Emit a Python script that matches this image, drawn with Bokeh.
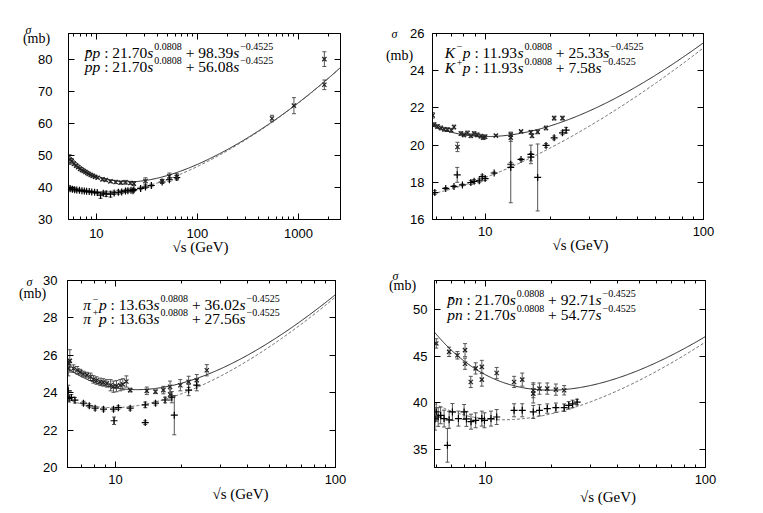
import numpy as np
from bokeh.plotting import figure
from bokeh.models import (ColumnDataSource, Whisker, Label, LogAxis, LinearAxis,
                          FixedTicker, Range1d, CustomJSTickFormatter, TeeHead,
                          PrintfTickFormatter)
from bokeh.layouts import row, column
from bokeh.embed import file_html
from bokeh.resources import INLINE

# ---------------- fit coefficients (from the printed formulas) ----------------
EXP_P = 0.0808
EXP_R = -0.4525
pp_coef = [21.70, 98.39, 56.08]      # X, Y(pbar p), Y(p p)
kp_coef = [11.93, 25.33, 7.58]       # X, Y(K- p), Y(K+ p)
pip_coef = [13.63, 36.02, 27.56]     # X, Y(pi- p), Y(pi+ p)
pn_coef = [21.70, 92.71, 54.77]      # X, Y(pbar n), Y(p n)

# ---------------- panel 1 data: pbar p / p p ----------------
pbarp_x = [5.45, 5.7, 6.0, 6.3, 6.6, 6.9, 7.2, 7.5, 7.8, 8.1, 8.4, 8.8, 9.2, 9.7,
           10.3, 11.5, 12.4, 13.8, 15.5, 17.4, 19.4, 21.7, 23.5, 30.6, 44.7,
           52.8, 62.5, 546, 900, 1800, 1800]
pbarp_y = [48.7, 48.2, 47.4, 46.8, 46.3, 45.8, 45.4, 45.1, 44.8, 44.5, 44.2, 43.9,
           43.6, 43.3, 43.0, 42.5, 42.3, 41.9, 41.7, 41.5, 41.6, 41.4, 41.2, 42.0,
           41.9, 43.5, 43.3, 61.5, 65.5, 72.0, 80.0]
pbarp_e = [1.5, 0.8, 0.6, 0.5, 0.4, 0.4, 0.3, 0.3, 0.3, 0.3, 0.3, 0.3, 0.3, 0.3,
           0.3, 0.4, 0.4, 0.4, 0.5, 0.5, 0.6, 0.5, 0.6, 1.0, 0.6, 1.0, 1.0,
           1.0, 2.5, 1.5, 2.3]
pp_x = [5.5, 5.8, 6.1, 6.4, 6.8, 7.2, 7.6, 8.0, 8.5, 9.0, 9.6, 10.2, 11.0, 11.7,
        12.5, 13.8, 15.0, 16.5, 17.8, 19.4, 20.5, 22.0, 23.0, 23.5, 27.4, 30.6,
        35.0, 44.7, 52.8, 62.5]
pp_y = [39.6, 39.4, 39.3, 39.2, 39.1, 39.0, 38.9, 38.8, 38.7, 38.6, 38.5, 38.4,
        37.6, 38.2, 38.0, 37.9, 38.3, 38.5, 38.6, 38.9, 39.0, 39.1, 39.0, 39.3,
        39.7, 40.1, 40.6, 41.7, 42.4, 43.1]
pp_e = [0.6, 0.5, 0.4, 0.4, 0.4, 0.3, 0.3, 0.3, 0.3, 0.3, 0.3, 0.3, 1.0, 0.4,
        0.8, 0.9, 0.5, 0.6, 0.5, 0.5, 0.5, 0.4, 0.4, 0.4, 0.4, 0.4, 0.4, 0.4,
        0.5, 0.5]

# ---------------- panel 2 data: K- p / K+ p ----------------
kmp_x = [5.75, 5.84, 6.05, 6.27, 6.5, 6.72, 7.0, 7.2, 7.47, 7.74, 8.0, 8.3, 8.6,
         8.9, 9.2, 9.56, 9.8, 10.0, 11.2, 13.1, 13.1, 14.6, 16.2, 16.4, 17.4,
         19.0, 20.7, 22.6]
kmp_y = [21.6, 21.1, 21.0, 20.92, 20.85, 20.83, 20.8, 20.97, 19.9, 20.62, 20.55,
         20.65, 20.5, 20.62, 20.55, 20.48, 20.4, 20.45, 20.51, 20.56, 20.4, 20.74,
         20.69, 20.5, 20.71, 20.92, 21.45, 21.45]
kmp_e = [0.15, 0.1, 0.1, 0.1, 0.1, 0.1, 0.1, 0.1, 0.25, 0.1, 0.1, 0.1, 0.1, 0.1,
         0.1, 0.1, 0.1, 0.1, 0.05, 0.1, 0.2, 0.05, 0.1, 0.1, 0.1, 0.1, 0.1, 0.1]
kpp_x = [5.88, 6.6, 7.2, 7.45, 7.87, 8.6, 8.9, 9.4, 9.7, 10.0, 11.0, 13.1, 13.1,
         14.6, 16.2, 16.2, 17.4, 19.0, 20.7, 22.6, 23.5]
kpp_y = [17.45, 17.67, 17.78, 18.4, 17.86, 17.99, 18.05, 18.08, 18.3, 18.2, 18.5,
         18.97, 18.8, 19.23, 19.5, 19.35, 18.26, 19.98, 20.39, 20.66, 20.8]
kpp_e = [0.1, 0.05, 0.05, 0.4, 0.05, 0.1, 0.1, 0.1, 0.1, 0.1, 0.05, 0.1, 1.9,
         0.05, 0.5, 0.2, 1.8, 0.1, 0.1, 0.1, 0.15]

# ---------------- panel 3 data: pi- p / pi+ p ----------------
pimp_x = [6.1, 6.15, 6.2, 6.44, 6.7, 6.91, 7.15, 7.41, 7.7, 7.94, 8.2, 8.52, 8.8,
          9.13, 9.5, 9.79, 10.1, 10.5, 10.8, 11.2, 11.66, 13.87, 15.2, 16.5,
          17.7, 17.7, 19.7, 21.5, 23.4, 26.0]
pimp_y = [25.3, 25.56, 25.7, 25.29, 25.2, 25.1, 25.0, 24.94, 24.85, 24.71, 24.65,
          24.58, 24.55, 24.5, 24.4, 24.32, 24.35, 24.4, 24.45, 24.6, 24.14, 24.1,
          24.05, 24.14, 24.32, 23.9, 24.4, 24.58, 24.67, 25.2]
pimp_e = [0.4, 0.2, 0.6, 0.2, 0.2, 0.15, 0.15, 0.15, 0.2, 0.2, 0.2, 0.2, 0.2, 0.2,
          0.3, 0.3, 0.3, 0.3, 0.3, 0.3, 0.1, 0.2, 0.1, 0.2, 0.3, 0.3, 0.3, 0.3,
          0.3, 0.3]
pipp_x = [6.1, 6.15, 6.3, 6.54, 7.15, 7.6, 8.08, 8.82, 9.79, 9.85, 10.3, 11.66,
          13.65, 13.65, 15.2, 16.8, 18.03, 18.5, 21.5, 23.4]
pipp_y = [24.1, 23.7, 23.75, 23.6, 23.44, 23.3, 23.17, 23.12, 23.12, 22.5, 23.2,
          23.17, 23.35, 22.4, 23.44, 23.61, 23.76, 22.8, 24.14, 24.4]
pipp_e = [0.3, 0.2, 0.15, 0.15, 0.1, 0.1, 0.1, 0.1, 0.1, 0.2, 0.1, 0.1, 0.15, 0.1,
          0.1, 0.15, 0.3, 1.05, 0.3, 0.3]

# ---------------- panel 4 data: pbar n / p n ----------------
pbn_x = [5.98, 6.84, 7.46, 8.08, 8.08, 8.58, 9.03, 9.63, 9.63, 11.25, 13.5, 14.7,
         16.5, 16.5, 17.6, 19.1, 20.9, 22.8]
pbn_y = [46.37, 45.47, 45.1, 45.65, 44.2, 42.25, 43.7, 43.86, 42.5, 43.2, 42.25,
         42.5, 41.36, 41.0, 41.54, 41.54, 41.43, 41.36]
pbn_e = [0.5, 0.5, 0.4, 0.7, 0.6, 0.6, 0.6, 0.7, 0.7, 0.6, 0.6, 0.7, 0.8, 1.0,
         0.6, 0.6, 0.6, 0.5]
pn_x = [5.9, 5.98, 6.1, 6.26, 6.49, 6.72, 6.84, 7.08, 7.54, 8.0, 8.2, 8.6, 9.03,
        9.63, 9.9, 10.6, 11.25, 13.5, 14.7, 16.5, 17.6, 19.1, 20.9, 22.8, 23.9,
        24.9, 26.1]
pn_y = [38.3, 39.04, 38.5, 38.68, 38.33, 35.47, 38.2, 39.04, 38.33, 39.04, 38.3,
        38.0, 38.15, 38.33, 38.15, 38.33, 38.5, 39.22, 39.22, 39.04, 39.22, 39.4,
        39.5, 39.5, 39.75, 39.9, 40.1]
pn_e = [1.2, 1.0, 1.0, 0.9, 0.9, 1.8, 0.9, 0.9, 0.8, 0.8, 0.8, 0.8, 0.8, 0.8,
        0.8, 0.8, 0.8, 0.7, 0.7, 0.7, 0.6, 0.5, 0.5, 0.4, 0.4, 0.4, 0.3]

# ---------------- text ----------------
# reaction names: (base letter, charge superscript, target) ; "" = no charge
panel1_names = [("p̄", "", "p"), ("p", "", "p")]
panel2_names = [("K", "−", "p"), ("K", "+", "p")]
panel3_names = [("π", "−", "p"), ("π", "+", "p")]
panel4_names = [("p̄", "", "n"), ("p", "", "n")]
exp_labels = ["0.0808", "−0.4525"]
x_label = "√s (GeV)"
y_label_1 = "σ"
y_label_2 = "(mb)"

SERIF = "Liberation Serif"
SANS = "Liberation Sans"
MAIN_PX = 15.5
SUP_PX = 10.0

# Times / Liberation Serif advance widths (1/1000 em)
REG_W = {" ": 250, ":": 278, ".": 250, "+": 564, "−": 564}
REG_W.update({d: 500 for d in "0123456789"})
ITA_W = {"p": 500, "s": 389, "n": 500, "K": 667, "π": 520, "\u0304": 0}


def text_w(t, italic, px):
    tbl = ITA_W if italic else REG_W
    return sum(tbl.get(c, 500) for c in t) * px / 1000.0


def fit(coef, which, xs):
    s = xs ** 2
    return coef[0] * s ** EXP_P + coef[which] * s ** EXP_R


def make_panel(w, h, mbl, mbr, mbt, mbb, xr, yr, xticks, xminor, yticks,
               ystand, xstand):
    p = figure(width=w, height=h, x_axis_type="log",
               x_range=Range1d(*xr), y_range=Range1d(*yr),
               output_backend="svg", toolbar_location=None,
               min_border_left=mbl, min_border_right=mbr,
               min_border_top=mbt, min_border_bottom=mbb)
    p.xgrid.visible = False
    p.ygrid.visible = False
    p.outline_line_color = "black"
    p.outline_line_width = 1
    p.background_fill_color = "white"
    p.border_fill_color = "white"
    xt = FixedTicker(ticks=xticks, minor_ticks=xminor)
    yt = FixedTicker(ticks=yticks, minor_ticks=[])
    ax = p.xaxis[0]
    ax.ticker = xt
    ax.formatter = PrintfTickFormatter(format="%d")
    ay = p.yaxis[0]
    ay.ticker = yt
    for a, st in ((ax, xstand), (ay, ystand)):
        a.major_tick_in = 6
        a.major_tick_out = 0
        a.minor_tick_in = 3
        a.minor_tick_out = 0
        a.major_label_standoff = st
        a.major_label_text_font = SANS
        a.major_label_text_font_size = "13px"
        a.major_label_text_color = "black"
        a.axis_line_color = "black"
        a.major_tick_line_color = "black"
        a.minor_tick_line_color = "black"
    blank = CustomJSTickFormatter(code="return ''")
    top = LogAxis(ticker=xt, formatter=blank, major_label_text_font_size="1px",
                  major_label_standoff=0, major_tick_in=6, major_tick_out=0,
                  minor_tick_in=3, minor_tick_out=0, axis_line_color="black")
    right = LinearAxis(ticker=yt, formatter=blank, major_label_text_font_size="1px",
                       major_label_standoff=0, major_tick_in=6, major_tick_out=0,
                       minor_tick_out=0, axis_line_color="black")
    p.add_layout(top, "above")
    p.add_layout(right, "right")
    return p


def add_series(p, xs, ys, es, marker, size, color):
    src = ColumnDataSource(dict(x=xs, y=ys,
                                lo=[a - b for a, b in zip(ys, es)],
                                hi=[a + b for a, b in zip(ys, es)]))
    wk = Whisker(source=src, base="x", lower="lo", upper="hi",
                 line_color="#555555", line_width=1,
                 upper_head=TeeHead(size=4, line_color="#555555", line_width=1),
                 lower_head=TeeHead(size=4, line_color="#555555", line_width=1))
    p.add_layout(wk)
    p.scatter("x", "y", source=src, marker=marker, size=size,
              line_color=color, line_width=1.2)


def add_curves(p, coef, xr):
    xs = np.geomspace(xr[0], xr[1], 300)
    p.line(xs, fit(coef, 1, xs), line_color="#222222", line_width=1)
    p.line(xs, fit(coef, 2, xs), line_color="#666666", line_width=1,
           line_dash="3 2")


def put(p, xr, yr, text, xo, yo, px, italic=False):
    p.add_layout(Label(x=xr[0], y=yr[1], x_offset=xo, y_offset=yo, text=text,
                       text_font=SERIF, text_font_size=f"{px}px",
                       text_font_style="italic" if italic else "normal",
                       text_align="left", text_baseline="alphabetic",
                       text_color="black"))


def add_formulas(p, xr, yr, names, coef, x_start, baselines):
    for li, (base, charge, target) in enumerate(names):
        bo = baselines[li]
        so = bo + 6
        x = x_start
        segs = [(base, True, MAIN_PX, bo, 0)]
        if charge:
            segs.append((charge, False, SUP_PX, bo + 5.5, 1.5))
        segs += [(target, True, MAIN_PX, bo, 0.5 if charge else 0),
                 (" : %.2f" % coef[0], False, MAIN_PX, bo, 0),
                 ("s", True, MAIN_PX, bo, 0),
                 (exp_labels[0], False, SUP_PX, so, 1),
                 (" + %.2f" % coef[li + 1], False, MAIN_PX, bo, 0),
                 ("s", True, MAIN_PX, bo, 0),
                 (exp_labels[1], False, SUP_PX, so, 1)]
        for t, it, px, yo, gap in segs:
            x += gap
            stripped = t.lstrip(" ")
            x += text_w(t[:len(t) - len(stripped)], it, px)
            put(p, xr, yr, stripped, x, yo, px, it)
            x += text_w(stripped, it, px)


def add_axis_texts(p, xr, yr, xlab_off, sig_off, mb_off):
    # side-panel labels are not clipped to the frame
    p.add_layout(Label(x=xr[0], y=yr[0], x_offset=xlab_off[0],
                       y_offset=xlab_off[1], text=x_label, text_font=SERIF,
                       text_font_size="15px", text_align="center",
                       text_baseline="middle", text_color="black"), "below")
    p.add_layout(Label(x=xr[0], y=yr[1], x_offset=sig_off[0], y_offset=sig_off[1],
                       text=y_label_1, text_font=SERIF, text_font_size="12px",
                       text_font_style="italic", text_align="center",
                       text_baseline="middle", text_color="black"), "right")
    p.add_layout(Label(x=xr[0], y=yr[1], x_offset=mb_off[0], y_offset=mb_off[1],
                       text=y_label_2, text_font=SERIF, text_font_size="14px",
                       text_align="center", text_baseline="middle",
                       text_color="black"), "right")


minor_a = [6, 7, 8, 9, 20, 30, 40, 50, 60, 70, 80, 90, 200, 300, 400, 500, 600,
           700, 800, 900, 2000]
minor_b = [6, 7, 8, 9, 20, 30, 40, 50, 60, 70, 80, 90]

# ---- panel 1 ----
xr1, yr1 = (5.3, 2600), (30, 88)
p1 = make_panel(380, 261, 68, 40, 29, 42, xr1, yr1, [10, 100, 1000], minor_a,
                [30, 40, 50, 60, 70, 80], 16, 9)
add_curves(p1, pp_coef, xr1)
add_series(p1, pp_x, pp_y, pp_e, "cross", 7, "black")
add_series(p1, pbarp_x, pbarp_y, pbarp_e, "x", 6, "#222222")
add_formulas(p1, xr1, yr1, panel1_names, pp_coef, 16.3, [-19.3, -33.3])
add_axis_texts(p1, xr1, yr1, (132, -27), (-40, 4), (-32, -4.5))

# ---- panel 2 ----
xr2, yr2 = (5.74, 100), (16, 26)
p2 = make_panel(367, 261, 52, 44, 33, 40, xr2, yr2, [10, 100], minor_b,
                [16, 18, 20, 22, 24, 26], 8, 7)
add_curves(p2, kp_coef, xr2)
add_series(p2, kpp_x, kpp_y, kpp_e, "cross", 7, "black")
add_series(p2, kmp_x, kmp_y, kmp_e, "x", 6, "#222222")
add_formulas(p2, xr2, yr2, panel2_names, kp_coef, 12.3, [-18.7, -34.3])
add_axis_texts(p2, xr2, yr2, (148, -25), (-38, 0), (-33, -22))

# ---- panel 3 ----
xr3, yr3 = (6.05, 100), (20, 30)
p3 = make_panel(380, 247, 67, 45, 18, 40, xr3, yr3, [10, 100], minor_b,
                [20, 22, 24, 26, 28, 30], 10, 7)
add_curves(p3, pip_coef, xr3)
add_series(p3, pipp_x, pipp_y, pipp_e, "cross", 7, "black")
add_series(p3, pimp_x, pimp_y, pimp_e, "x", 6, "#222222")
add_formulas(p3, xr3, yr3, panel3_names, pip_coef, 15.7, [-24.3, -37.7])
add_axis_texts(p3, xr3, yr3, (173, -26), (-38, -1), (-35, -13))

# ---- panel 4 ----
xr4, yr4 = (5.87, 100), (33.1, 53.1)
p4 = make_panel(367, 247, 54, 42, 19, 41, xr4, yr4, [10, 100], minor_b,
                [35, 40, 45, 50], 7, 7)
add_curves(p4, pn_coef, xr4)
add_series(p4, pn_x, pn_y, pn_e, "cross", 7, "black")
add_series(p4, pbn_x, pbn_y, pbn_e, "x", 6, "#222222")
add_formulas(p4, xr4, yr4, panel4_names, pn_coef, 12.7, [-19.3, -34.3])
add_axis_texts(p4, xr4, yr4, (173.5, -29), (-39, 5), (-32, -5))

layout = column(row(p1, p2), row(p3, p4))
open("out.html", "w").write(file_html(layout, INLINE))
